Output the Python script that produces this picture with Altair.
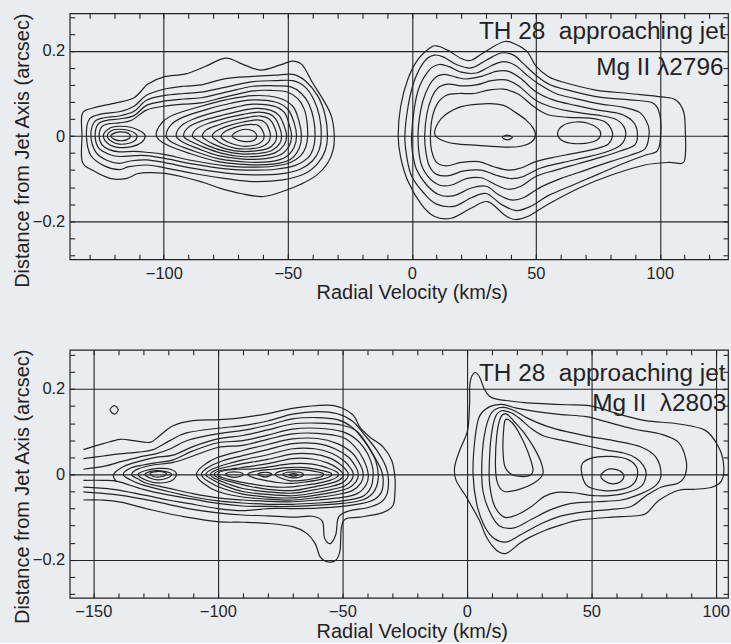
import altair as alt
import pandas as pd

INK = "#232323"
BG = "#eaedf0"
FONT = "Liberation Sans"

# ---------------- axis ticks / domains ----------------
XMAJ_A = [-100, -50, 0, 50, 100]
XMIN_A = [-130, -120, -110, -100, -90, -80, -70, -60, -50, -40, -30, -20, -10, 0,
          10, 20, 30, 40, 50, 60, 70, 80, 90, 100, 110, 120]
XMAJ_B = [-150, -100, -50, 0, 50, 100]
XMIN_B = [-150, -140, -130, -120, -110, -100, -90, -80, -70, -60, -50, -40, -30, -20, -10, 0,
          10, 20, 30, 40, 50, 60, 70, 80, 90, 100]
YMAJ = [-0.2, 0, 0.2]
YMIN = [-0.28, -0.24, -0.2, -0.16, -0.12, -0.08, -0.04, 0, 0.04, 0.08, 0.12, 0.16, 0.2, 0.24, 0.28]
XDOM_A = [-137.95, 127.5]
YDOM_A = [-0.2894, 0.2884]
XDOM_B = [-159.5, 104.9]
YDOM_B = [-0.289, 0.2914]

# ---------------- annotations ----------------
LABELS_A = ["TH 28\u00a0\u00a0approaching jet", "Mg II λ2796"]
LABEL_V_A = [126.5, 125.7]
LABEL_D_A = [0.229, 0.1434]
LABELS_B = ["TH 28\u00a0\u00a0approaching jet", "Mg II\u00a0\u00a0λ2803"]
LABEL_V_B = [103.9, 104.2]
LABEL_D_B = [0.219, 0.149]

# ---------------- panel A (Mg II 2796): contours (velocity km/s, offset arcsec) ----------------
A_L1 = [(-133,0.0),(-132.9,0.052),(-128.5,0.066),(-119.3,0.078),(-112,0.09),(-106.4,0.122),(-100,0.139),(-91.2,0.146),(-83.1,0.164),(-75.1,0.183),(-68.3,0.169),(-61,0.155),(-53,0.167),(-48.2,0.176),(-44.2,0.167),(-40.2,0.127),(-35.7,0.085),(-32.5,0.048),(-31.3,0.005),(-31.7,-0.032),(-34.1,-0.065),(-38.6,-0.093),(-45,-0.114),(-51,-0.128),(-59.8,-0.142),(-69,-0.135),(-77.1,-0.123),(-85.1,-0.107),(-97.2,-0.09),(-105.2,-0.086),(-110.4,-0.088),(-115.3,-0.1),(-121.3,-0.1),(-128.5,-0.081),(-132.9,-0.06)]
A_L2 = [(-131.2,0.0),(-130,0.04),(-125,0.052),(-118,0.057),(-112,0.07),(-107,0.096),(-100,0.11),(-92,0.117),(-85,0.12),(-75,0.135),(-64,0.14),(-55,0.143),(-48,0.145),(-43,0.13),(-38,0.095),(-35,0.05),(-34,0.0),(-35,-0.035),(-38,-0.065),(-43,-0.088),(-52,-0.103),(-64,-0.107),(-75,-0.1),(-88,-0.088),(-100,-0.074),(-107,-0.068),(-114,-0.072),(-118,-0.079),(-124,-0.07),(-129.5,-0.045)]
A_L3 = [(-129.4,0.0),(-128,0.033),(-124,0.043),(-118,0.047),(-112,0.058),(-107,0.084),(-100,0.095),(-92,0.1),(-85,0.103),(-75,0.115),(-64,0.128),(-55,0.13),(-48,0.13),(-43,0.115),(-39.5,0.085),(-37.2,0.045),(-36.5,0.0),(-37.3,-0.032),(-40,-0.058),(-45,-0.078),(-53,-0.089),(-64,-0.091),(-75,-0.087),(-88,-0.076),(-100,-0.062),(-107,-0.056),(-113,-0.058),(-118,-0.064),(-123,-0.057),(-127.5,-0.037)]
A_L4 = [(-127.7,0.0),(-126.5,0.028),(-123,0.037),(-118,0.04),(-112,0.048),(-107,0.072),(-100,0.082),(-92,0.087),(-85,0.09),(-75,0.103),(-64,0.117),(-55,0.118),(-49,0.116),(-44.5,0.1),(-41.5,0.075),(-39.6,0.04),(-39,0.0),(-39.8,-0.03),(-42,-0.052),(-47,-0.069),(-55,-0.078),(-64,-0.08),(-75,-0.077),(-88,-0.066),(-100,-0.052),(-107,-0.046),(-112,-0.046),(-118,-0.048),(-122.5,-0.042),(-126.3,-0.028)]
A_L5 = [(-126.1,0.0),(-125,0.022),(-122,0.029),(-118,0.031),(-113,0.037),(-107,0.061),(-100,0.07),(-92,0.075),(-85,0.078),(-75,0.092),(-64,0.106),(-56,0.107),(-50,0.103),(-46,0.088),(-43.5,0.065),(-42.3,0.035),(-42,0.0),(-42.8,-0.027),(-45,-0.047),(-49,-0.062),(-56,-0.071),(-64,-0.073),(-75,-0.07),(-88,-0.058),(-100,-0.043),(-107,-0.038),(-112,-0.036),(-118,-0.037),(-122,-0.032),(-125,-0.02)]
A_L6 = [(-103,0.0),(-101,0.03),(-96,0.05),(-85,0.07),(-75,0.085),(-64,0.095),(-54,0.09),(-48,0.07),(-45.5,0.035),(-44.5,0.0),(-45.5,-0.03),(-49,-0.055),(-56,-0.066),(-66,-0.067),(-78,-0.06),(-90,-0.04),(-99,-0.02)]
A_L7 = [(-99,0.0),(-97,0.027),(-92,0.045),(-83,0.062),(-73,0.077),(-64,0.085),(-55,0.08),(-50,0.063),(-47.5,0.032),(-46.5,0.0),(-47.5,-0.027),(-51,-0.05),(-57,-0.06),(-67,-0.061),(-78,-0.053),(-88,-0.035),(-96,-0.017)]
A_L8 = [(-95,0.0),(-93,0.024),(-88,0.04),(-80,0.055),(-71,0.068),(-64,0.075),(-56,0.071),(-51.5,0.056),(-49.5,0.028),(-48.5,0.0),(-49.5,-0.024),(-53,-0.044),(-59,-0.053),(-68,-0.054),(-78,-0.046),(-86,-0.03),(-92,-0.015)]
A_L9 = [(-92,0.0),(-90,0.021),(-85,0.035),(-77,0.048),(-70,0.058),(-63,0.065),(-57,0.061),(-53.5,0.048),(-51.5,0.024),(-50.5,0.0),(-51.5,-0.021),(-55,-0.039),(-61,-0.047),(-69,-0.048),(-77,-0.04),(-84,-0.026),(-89,-0.013)]
A_L10 = [(-88.5,0.0),(-86.5,0.018),(-82,0.03),(-75,0.042),(-68,0.051),(-62,0.056),(-57.5,0.052),(-55,0.041),(-53.3,0.02),(-52.5,0.0),(-53.3,-0.018),(-56.5,-0.034),(-62,-0.041),(-69,-0.042),(-76,-0.035),(-82,-0.023),(-86,-0.011)]
A_L11 = [(-84.5,0.0),(-82.5,0.016),(-78,0.026),(-72,0.037),(-66,0.044),(-61,0.047),(-57.5,0.04),(-55.3,0.02),(-54.5,0.0),(-55.3,-0.016),(-58,-0.029),(-63,-0.035),(-69,-0.036),(-75,-0.03),(-80,-0.019),(-83,-0.009)]
A_L12 = [(-80.5,0.0),(-78.5,0.013),(-74,0.024),(-68,0.033),(-62,0.038),(-59,0.031),(-57.6,0.016),(-57,0.0),(-57.8,-0.014),(-60.5,-0.025),(-65,-0.03),(-71,-0.029),(-76,-0.02),(-79,-0.009)]
A_L13 = [(-77,0.0),(-75,0.012),(-71,0.021),(-66,0.027),(-62,0.025),(-60.2,0.013),(-59.5,0.0),(-60.3,-0.012),(-63,-0.021),(-68,-0.024),(-73,-0.017),(-76,-0.008)]
A_L14 = [(-72.5,0.0),(-70,0.012),(-67,0.016),(-64,0.012),(-62.5,0.0),(-64,-0.011),(-67,-0.013),(-70,-0.01)]
A_LL6 = [(-124.4,0.0),(-122,0.018),(-118,0.023),(-113,0.02),(-109,0.01),(-107.5,0.0),(-109,-0.015),(-113,-0.025),(-118,-0.027),(-122,-0.02)]
A_LL7 = [(-122.8,0.0),(-121,0.013),(-118,0.016),(-114,0.013),(-111.5,0.006),(-110.8,0.0),(-111.5,-0.01),(-114,-0.017),(-118,-0.019),(-121,-0.013)]
A_LL8 = [(-121.4,0.0),(-119.5,0.008),(-117.4,0.01),(-115,0.008),(-113.4,0.0),(-115,-0.009),(-117.4,-0.011),(-119.5,-0.009)]
A_R1 = [(-5.5,0.0),(-4.5,0.07),(-1.5,0.135),(2.5,0.18),(7.9,0.209),(10.6,0.211),(15,0.2),(20,0.182),(24,0.178),(30,0.2),(37.3,0.222),(42,0.215),(46.7,0.197),(50,0.165),(55,0.14),(60.8,0.127),(74.2,0.108),(87.6,0.1),(100.8,0.092),(106.3,0.085),(109.6,0.057),(110.3,0.01),(110.3,-0.044),(109,-0.064),(103.6,-0.062),(94,-0.068),(80.8,-0.091),(67.5,-0.122),(55,-0.16),(46.7,-0.189),(41.4,-0.196),(37.3,-0.185),(30.6,-0.154),(24,-0.169),(15.9,-0.193),(9.2,-0.189),(3.9,-0.161),(-1.5,-0.107),(-4.5,-0.05)]
A_R2 = [(-2.8,0.0),(-1.5,0.07),(1,0.13),(5,0.175),(9,0.19),(13,0.185),(18,0.168),(24,0.16),(30,0.178),(36,0.195),(41,0.19),(45,0.17),(50,0.143),(56,0.12),(65,0.105),(75,0.092),(88,0.085),(97,0.078),(100,0.05),(100.3,0.0),(99,-0.035),(94,-0.045),(85,-0.065),(75,-0.09),(65,-0.115),(55,-0.14),(48,-0.165),(42,-0.175),(36,-0.16),(30,-0.135),(24,-0.145),(17,-0.165),(10,-0.16),(5,-0.135),(0,-0.095),(-2,-0.05)]
A_R3 = [(-0.1,0.0),(1,0.065),(3,0.115),(7,0.155),(11,0.168),(15,0.163),(20,0.15),(26,0.148),(32,0.165),(37,0.175),(42,0.165),(46,0.145),(51,0.123),(58,0.1),(66,0.088),(75,0.076),(85,0.068),(92,0.055),(95.3,0.025),(95.6,0.0),(94,-0.03),(88,-0.045),(80,-0.06),(70,-0.08),(60,-0.1),(52,-0.12),(45,-0.145),(40,-0.15),(35,-0.138),(30,-0.118),(24,-0.122),(17,-0.14),(11,-0.138),(6,-0.115),(2,-0.08),(0.3,-0.04)]
A_R4 = [(2.5,0.0),(3.5,0.058),(5.5,0.1),(9,0.135),(13,0.145),(18,0.138),(22,0.134),(28,0.14),(34,0.152),(39,0.152),(44,0.135),(50,0.104),(57,0.085),(66,0.072),(75,0.061),(84,0.052),(89,0.035),(90.9,0.01),(90,-0.02),(84,-0.035),(76,-0.05),(67,-0.065),(58,-0.08),(50,-0.095),(44,-0.118),(39,-0.125),(34,-0.115),(28,-0.098),(22,-0.1),(16,-0.115),(11,-0.115),(6.5,-0.095),(3.5,-0.06)]
A_R5 = [(5.2,0.0),(6,0.05),(8,0.09),(11,0.115),(15,0.122),(20,0.118),(26,0.12),(32,0.13),(38,0.132),(43,0.118),(50,0.084),(57,0.067),(66,0.056),(75,0.049),(82,0.04),(85.5,0.022),(86.2,0.0),(84,-0.022),(78,-0.038),(70,-0.05),(61,-0.062),(52,-0.075),(45,-0.095),(40,-0.1),(34,-0.092),(28,-0.08),(21,-0.082),(15,-0.093),(10,-0.09),(7,-0.07),(5.6,-0.035)]
A_R6 = [(7.5,0.0),(8.3,0.045),(10.5,0.078),(14,0.096),(19,0.1),(25,0.1),(31,0.108),(37,0.11),(43,0.098),(49,0.07),(55,0.05),(63,0.044),(72,0.042),(78,0.033),(80.5,0.015),(80.9,0.0),(79,-0.02),(74,-0.03),(66,-0.04),(57,-0.05),(50,-0.06),(44,-0.075),(39,-0.08),(33,-0.072),(27,-0.06),(20,-0.062),(14,-0.07),(10,-0.062),(8,-0.035)]
A_R7a = [(9.2,0.006),(10.5,0.03),(13.3,0.049),(20,0.069),(30.6,0.076),(37,0.072),(41.4,0.057),(46,0.038),(49,0.018),(49.8,0.0),(48,-0.015),(44,-0.024),(37.3,-0.026),(26.6,-0.022),(17.3,-0.018),(11.5,-0.008)]
A_R7b = [(58.8,0.008),(61,0.025),(66,0.033),(71,0.03),(75,0.018),(76.2,0.005),(74.5,-0.01),(70,-0.017),(64,-0.017),(60,-0.008)]
A_R8 = [(36.5,-0.003),(38.5,0.002),(40.6,-0.003),(38.5,-0.009)]

# ---------------- panel B (Mg II 2803) ----------------
# open contours (cut by the data edge on the left)
B_B1 = [(-154,0.058),(-146,0.072),(-139.3,0.082),(-134,0.079),(-127.3,0.075),(-123.3,0.091),(-118,0.114),(-110,0.126),(-99.3,0.128),(-90,0.133),(-79.3,0.143),(-69.5,0.155),(-56.2,0.162),(-50.9,0.157),(-45.6,0.138),(-42.9,0.11),(-38.9,0.087),(-33.6,0.064),(-30.2,0.033),(-28.9,-0.006),(-28.9,-0.045),(-29.8,-0.074),(-34,-0.09),(-42.9,-0.1),(-48.5,-0.104),(-50.4,-0.125),(-50.9,-0.177),(-52.5,-0.2),(-55.6,-0.205),(-58.9,-0.193),(-60.9,-0.162),(-64.3,-0.138),(-69.6,-0.123),(-79.3,-0.115),(-90,-0.112),(-99.3,-0.111),(-112.6,-0.1),(-126,-0.084),(-139,-0.065),(-147,-0.06),(-154,-0.06)]
B_B2 = [(-154,0.037),(-146,0.043),(-139.7,0.048),(-132,0.052),(-126,0.058),(-119.3,0.079),(-112.6,0.097),(-100,0.108),(-90,0.114),(-80,0.125),(-70,0.141),(-60,0.147),(-52,0.142),(-46,0.125),(-41,0.092),(-36,0.055),(-32.5,0.018),(-31.5,-0.01),(-32,-0.045),(-34.5,-0.065),(-40,-0.078),(-47,-0.085),(-51.5,-0.1),(-52.6,-0.14),(-54.9,-0.162),(-57.2,-0.148),(-58,-0.11),(-62,-0.098),(-70,-0.1),(-80,-0.097),(-90,-0.095),(-100,-0.09),(-112,-0.08),(-120,-0.07),(-130,-0.058),(-142,-0.047),(-154,-0.041)]
B_B3 = [(-154,0.012),(-145,0.02),(-140,0.028),(-132,0.04),(-125,0.048),(-119,0.06),(-112,0.08),(-100,0.095),(-90,0.103),(-80,0.115),(-70,0.13),(-60,0.133),(-52,0.128),(-46,0.11),(-41.5,0.08),(-37.5,0.045),(-34.5,0.012),(-33.6,-0.01),(-34.2,-0.04),(-37,-0.058),(-42,-0.068),(-50,-0.075),(-60,-0.079),(-70,-0.08),(-80,-0.08),(-90,-0.085),(-100,-0.08),(-112,-0.068),(-120,-0.06),(-130,-0.048),(-142,-0.035),(-154,-0.03)]
B_B4 = [(-154,-0.014),(-146,-0.014),(-140,-0.017),(-130,-0.035),(-120,-0.048),(-110,-0.058),(-100,-0.068),(-90,-0.074),(-80,-0.075),(-70,-0.075),(-60,-0.072),(-50,-0.068),(-42,-0.06),(-37.5,-0.042),(-35.6,-0.01),(-36.5,0.03),(-39.5,0.065),(-44,0.1),(-50,0.115),(-60,0.12),(-70,0.118),(-80,0.104),(-90,0.091),(-100,0.083),(-110,0.065),(-118,0.045),(-125,0.04),(-132,0.03),(-138,0.018),(-141.9,0.0),(-140.8,-0.0165)]
# closed contours
B_B5 = [(-138,0.0),(-135,0.015),(-130,0.022),(-125,0.027),(-118,0.034),(-110,0.055),(-100,0.074),(-90,0.079),(-80,0.092),(-70,0.106),(-60,0.108),(-50,0.1),(-44,0.08),(-40,0.05),(-38,0.02),(-37.6,0.0),(-38.5,-0.03),(-42,-0.052),(-50,-0.062),(-60,-0.067),(-70,-0.07),(-80,-0.07),(-90,-0.067),(-100,-0.062),(-110,-0.053),(-120,-0.04),(-130,-0.025),(-135,-0.013)]
B_B6 = [(-134.6,0.0),(-132,0.013),(-126,0.022),(-118,0.028),(-110,0.043),(-100,0.063),(-90,0.068),(-80,0.082),(-70,0.095),(-60,0.096),(-50,0.087),(-45,0.065),(-41.5,0.035),(-39.6,0.0),(-40.5,-0.025),(-44,-0.045),(-50,-0.054),(-60,-0.06),(-70,-0.064),(-80,-0.063),(-90,-0.06),(-100,-0.055),(-110,-0.045),(-120,-0.032),(-128,-0.022),(-132,-0.011)]
B_L7 = [(-132,0.0),(-129,0.009),(-124,0.014),(-119,0.012),(-116.6,0.0),(-119,-0.016),(-124,-0.02),(-129,-0.013)]
B_L8 = [(-129.3,0.0),(-127,0.007),(-124,0.009),(-120.5,0.006),(-118.6,0.0),(-120.5,-0.009),(-124,-0.013),(-127,-0.009)]
B_L9 = [(-127.3,0.0015),(-125.5,0.006),(-122.5,0.0065),(-120.6,0.001),(-122.5,-0.005),(-125.5,-0.0055)]
B_M7 = [(-108.6,0.0),(-106,0.02),(-100,0.04),(-90,0.056),(-80,0.07),(-70,0.083),(-60,0.084),(-52,0.072),(-46,0.05),(-42.6,0.02),(-41.6,0.0),(-42.5,-0.02),(-46,-0.038),(-52,-0.047),(-60,-0.054),(-70,-0.06),(-80,-0.058),(-90,-0.053),(-100,-0.04),(-106,-0.02)]
B_M8 = [(-106.6,0.0),(-104,0.016),(-98,0.032),(-90,0.044),(-80,0.058),(-70,0.072),(-60,0.072),(-53,0.06),(-47.5,0.04),(-44.4,0.015),(-43.6,0.0),(-44.5,-0.017),(-47.5,-0.032),(-53,-0.041),(-60,-0.048),(-70,-0.055),(-80,-0.053),(-90,-0.046),(-98,-0.033),(-104,-0.016)]
B_M9 = [(-104.8,0.0),(-102,0.013),(-96,0.025),(-90,0.034),(-80,0.046),(-70,0.06),(-61,0.06),(-54,0.049),(-49,0.03),(-46.3,0.011),(-45.6,0.0),(-46.4,-0.014),(-49,-0.027),(-54,-0.035),(-61,-0.043),(-70,-0.05),(-80,-0.047),(-90,-0.04),(-97,-0.027),(-102,-0.013)]
B_M10 = [(-103,0.0),(-100.5,0.011),(-95,0.019),(-90,0.025),(-80,0.035),(-70,0.048),(-62,0.048),(-55,0.038),(-50.5,0.022),(-48.2,0.008),(-47.6,0.0),(-48.3,-0.011),(-50.5,-0.021),(-55,-0.029),(-62,-0.037),(-70,-0.044),(-80,-0.041),(-90,-0.033),(-96,-0.022),(-100.8,-0.011)]
B_M11 = [(-101.5,0.0),(-99,0.009),(-93,0.014),(-88,0.018),(-80,0.025),(-70,0.037),(-62,0.036),(-56,0.027),(-51.8,0.014),(-49.6,0.0),(-50.3,-0.009),(-52.5,-0.017),(-57,-0.024),(-63,-0.031),(-70,-0.038),(-80,-0.035),(-88,-0.027),(-95,-0.017),(-99.5,-0.009)]
B_M12 = [(-100,0.0),(-98,0.008),(-92,0.012),(-86,0.013),(-80,0.017),(-70,0.025),(-62,0.024),(-56,0.015),(-52.3,0.006),(-51.6,0.0),(-52.3,-0.007),(-55,-0.014),(-60,-0.021),(-66,-0.026),(-72,-0.03),(-80,-0.028),(-88,-0.021),(-94,-0.014),(-98,-0.008)]
B_O1 = [(-97,0.0),(-95.5,0.005),(-93.5,0.006),(-91.3,0.005),(-89.8,0.0),(-91.3,-0.005),(-93.5,-0.007),(-95.5,-0.005)]
B_M13 = [(-88,0.0),(-86,0.006),(-82,0.01),(-78,0.012),(-72,0.016),(-65,0.016),(-59,0.01),(-55,0.004),(-54.2,0.0),(-55,-0.005),(-58,-0.011),(-64,-0.017),(-70,-0.021),(-76,-0.019),(-82,-0.013),(-86,-0.007)]
B_O2 = [(-84,0.0),(-82.5,0.004),(-81,0.005),(-79.5,0.004),(-78.3,0.0),(-79.5,-0.004),(-81,-0.006),(-82.5,-0.004)]
B_M14 = [(-77,0.0),(-75,0.007),(-71,0.011),(-66,0.011),(-61,0.007),(-58,0.003),(-57.6,0.0),(-58.2,-0.005),(-61,-0.009),(-66,-0.014),(-71,-0.015),(-75,-0.008)]
B_O3 = [(-74,0.0),(-72,0.005),(-69.5,0.006),(-67,0.005),(-65.6,0.0),(-67,-0.006),(-69.5,-0.008),(-72,-0.006)]
B_O3b = [(-71.5,-0.001),(-69.5,0.002),(-67.8,-0.001),(-69.5,-0.004)]
B_DOT = [(-143.3,0.151),(-141.6,0.161),(-140,0.151),(-141.6,0.141)]
B_R1 = [(-4.9,0.017),(-2.9,0.056),(0.3,0.103),(1.1,0.165),(1.3,0.215),(3.1,0.238),(5.1,0.228),(7,0.2),(9.1,0.183),(12,0.176),(15.8,0.173),(23,0.168),(31.8,0.165),(40,0.163),(49.1,0.161),(55,0.152),(61.1,0.141),(71.8,0.126),(85.1,0.118),(95.8,0.103),(101.1,0.064),(103.1,0.025),(102.4,-0.014),(98.4,-0.03),(91,-0.035),(85.1,-0.037),(77.1,-0.061),(71.8,-0.092),(65,-0.098),(58.4,-0.1),(45,-0.107),(38,-0.118),(31.8,-0.13),(25,-0.148),(21.1,-0.162),(15.8,-0.185),(11.8,-0.177),(7.8,-0.146),(5,-0.107),(-0.2,-0.053),(-4.3,-0.014)]
B_R2 = [(2.5,0.0),(3.2,0.08),(5,0.135),(9,0.158),(14,0.164),(20,0.155),(28,0.147),(38,0.14),(48,0.135),(58,0.12),(68,0.105),(78,0.094),(85,0.075),(88,0.035),(87.8,0.0),(85,-0.02),(78,-0.03),(72,-0.05),(66,-0.075),(58,-0.082),(48,-0.087),(38,-0.097),(30,-0.115),(22,-0.14),(16,-0.158),(11,-0.15),(7,-0.12),(4,-0.07)]
B_R3 = [(6,0.02),(7,0.09),(9.5,0.14),(13,0.156),(18,0.152),(25,0.13),(32,0.113),(40,0.1),(50,0.088),(60,0.078),(70,0.064),(76,0.04),(78,0.0),(76,-0.025),(70,-0.045),(62,-0.06),(52,-0.064),(42,-0.068),(34,-0.082),(26,-0.105),(19,-0.125),(13,-0.12),(9,-0.085),(6.5,-0.04)]
B_R4 = [(9,0.02),(9.8,0.09),(11.5,0.135),(14,0.149),(17.5,0.145),(21,0.132),(26,0.107),(31,0.09),(38,0.08),(46,0.07),(55,0.058),(63,0.05),(68,0.038),(71,0.02),(72,0.0),(70,-0.028),(62,-0.046),(52,-0.05),(43,-0.043),(36,-0.042),(31,-0.052),(26,-0.075),(20,-0.095),(15,-0.1),(11,-0.072),(9.2,-0.025)]
B_R5a = [(11.5,0.02),(12,0.09),(13.6,0.134),(16,0.141),(19,0.124),(23,0.097),(27,0.062),(30,0.025),(30.5,0.0),(27,-0.02),(21,-0.035),(15,-0.04),(12.3,-0.02)]
B_R6a = [(15.5,0.128),(18,0.122),(21,0.097),(24.5,0.053),(26.6,0.01),(24.5,-0.004),(18.5,-0.0015),(15.3,0.018),(14.5,0.06),(14.8,0.105)]
B_R5b = [(46,0.02),(50,0.038),(58,0.042),(65,0.034),(68.5,0.012),(67.5,-0.018),(63,-0.034),(55,-0.038),(48,-0.025)]
B_R6b = [(53.8,-0.004),(56,0.01),(58.5,0.013),(61.5,0.008),(63.1,-0.004),(61.5,-0.018),(58.5,-0.022),(55.5,-0.016)]

CLOSED_A = [("A_L1", A_L1), ("A_L2", A_L2), ("A_L3", A_L3), ("A_L4", A_L4), ("A_L5", A_L5),
            ("A_L6", A_L6), ("A_L7", A_L7), ("A_L8", A_L8), ("A_L9", A_L9), ("A_L10", A_L10),
            ("A_L11", A_L11), ("A_L12", A_L12), ("A_L13", A_L13), ("A_L14", A_L14),
            ("A_LL6", A_LL6), ("A_LL7", A_LL7), ("A_LL8", A_LL8),
            ("A_R1", A_R1), ("A_R2", A_R2), ("A_R3", A_R3), ("A_R4", A_R4), ("A_R5", A_R5),
            ("A_R6", A_R6), ("A_R7a", A_R7a), ("A_R7b", A_R7b), ("A_R8", A_R8)]
OPEN_B = [("B_B1", B_B1), ("B_B2", B_B2), ("B_B3", B_B3), ("B_B4", B_B4)]
CLOSED_B = [("B_B5", B_B5), ("B_B6", B_B6), ("B_L7", B_L7), ("B_L8", B_L8), ("B_L9", B_L9),
            ("B_M7", B_M7), ("B_M8", B_M8), ("B_M9", B_M9), ("B_M10", B_M10), ("B_M11", B_M11),
            ("B_M12", B_M12), ("B_O1", B_O1), ("B_M13", B_M13), ("B_O2", B_O2), ("B_M14", B_M14),
            ("B_O3", B_O3), ("B_O3b", B_O3b), ("B_DOT", B_DOT),
            ("B_R1", B_R1), ("B_R2", B_R2), ("B_R3", B_R3), ("B_R4", B_R4), ("B_R5a", B_R5a),
            ("B_R6a", B_R6a), ("B_R5b", B_R5b), ("B_R6b", B_R6b)]


def table(named):
    rows = []
    for name, pts in named:
        for k, (v, d) in enumerate(pts):
            rows.append({"cid": name, "k": k, "v": v, "d": d})
    return pd.DataFrame(rows)


def labels_table(texts, vs, ds):
    return pd.DataFrame({"label": texts, "v": vs, "d": ds})


W = 661
HA = 247
HB = 249


def main_x(xmaj, title_y):
    return alt.Axis(orient="bottom", values=xmaj, format="d", grid=True, gridColor=INK, gridWidth=1.1,
                    gridOpacity=1, ticks=False, tickSize=0, domain=False, labelPadding=6,
                    labelFont=FONT, labelFontSize=16.5, labelColor=INK, labelFlush=False,
                    title="Radial Velocity (km/s)", titleFont=FONT, titleFontSize=20,
                    titleFontWeight="normal", titleColor=INK, titleX=343.5, titleY=title_y,
                    titleBaseline="alphabetic", titleAlign="center")


def main_y(title_y):
    return alt.Axis(orient="left", values=YMAJ, format="~g", grid=True, gridColor=INK, gridWidth=1.1,
                    gridOpacity=1, ticks=False, tickSize=0, domain=False, labelPadding=5,
                    labelFont=FONT, labelFontSize=16.5, labelColor=INK, labelFlush=False,
                    title="Distance from Jet Axis (arcsec)", titleFont=FONT, titleFontSize=20,
                    titleFontWeight="normal", titleColor=INK, titleAngle=270, titleX=-57.5,
                    titleY=title_y, titleBaseline="top", titleAlign="center")


def tick_axis(orient, offset, values):
    return alt.Axis(orient=orient, offset=offset, values=values, ticks=True, tickSize=5,
                    tickColor=INK, tickWidth=1.1, labels=False, domain=False, grid=False, title=None)


def line_layer(df, interp, sx, sy, ax, ay):
    return alt.Chart(df).mark_line(interpolate=interp, color=INK, strokeWidth=1.2).encode(
        x=alt.X("v:Q", scale=sx, axis=ax),
        y=alt.Y("d:Q", scale=sy, axis=ay),
        detail="cid:N",
        order="k:Q",
    )


def text_layer(df, sx, sy, ax, ay):
    return alt.Chart(df).mark_text(align="right", baseline="alphabetic", font=FONT,
                                   fontSize=24.5, color=INK).encode(
        x=alt.X("v:Q", scale=sx, axis=ax),
        y=alt.Y("d:Q", scale=sy, axis=ay),
        text="label:N",
    )


# ---- panel A ----
sxA = alt.Scale(domain=XDOM_A, nice=False, zero=False)
syA = alt.Scale(domain=YDOM_A, nice=False, zero=False)
panelA = alt.layer(
    line_layer(table(CLOSED_A), "cardinal-closed", sxA, syA, main_x(XMAJ_A, 39), main_y(137.5)),
    text_layer(labels_table(LABELS_A[:1], LABEL_V_A[:1], LABEL_D_A[:1]), sxA, syA,
               tick_axis("top", -HA, XMIN_A), tick_axis("right", -W, YMIN)),
    text_layer(labels_table(LABELS_A[1:], LABEL_V_A[1:], LABEL_D_A[1:]), sxA, syA,
               tick_axis("bottom", -HA, XMIN_A), tick_axis("left", -W, YMIN)),
).resolve_axis(x="independent", y="independent").properties(width=W, height=HA)

# ---- panel B ----
sxB = alt.Scale(domain=XDOM_B, nice=False, zero=False)
syB = alt.Scale(domain=YDOM_B, nice=False, zero=False)
panelB = alt.layer(
    line_layer(table(CLOSED_B), "cardinal-closed", sxB, syB, main_x(XMAJ_B, 39.3), main_y(137)),
    line_layer(table(OPEN_B), "cardinal", sxB, syB,
               tick_axis("top", -HB, XMIN_B), tick_axis("right", -W, YMIN)),
    text_layer(labels_table(LABELS_B, LABEL_V_B, LABEL_D_B), sxB, syB,
               tick_axis("bottom", -HB, XMIN_B), tick_axis("left", -W, YMIN)),
).resolve_axis(x="independent", y="independent").properties(width=W, height=HB)

chart = alt.vconcat(panelA, panelB, spacing=91, bounds="flush").properties(
    background=BG,
    padding={"left": 11, "top": 10, "right": 0, "bottom": 0},
).configure_view(stroke=INK, strokeWidth=1.2)

chart.save("out.html", embed_options={"renderer": "svg", "actions": False})
